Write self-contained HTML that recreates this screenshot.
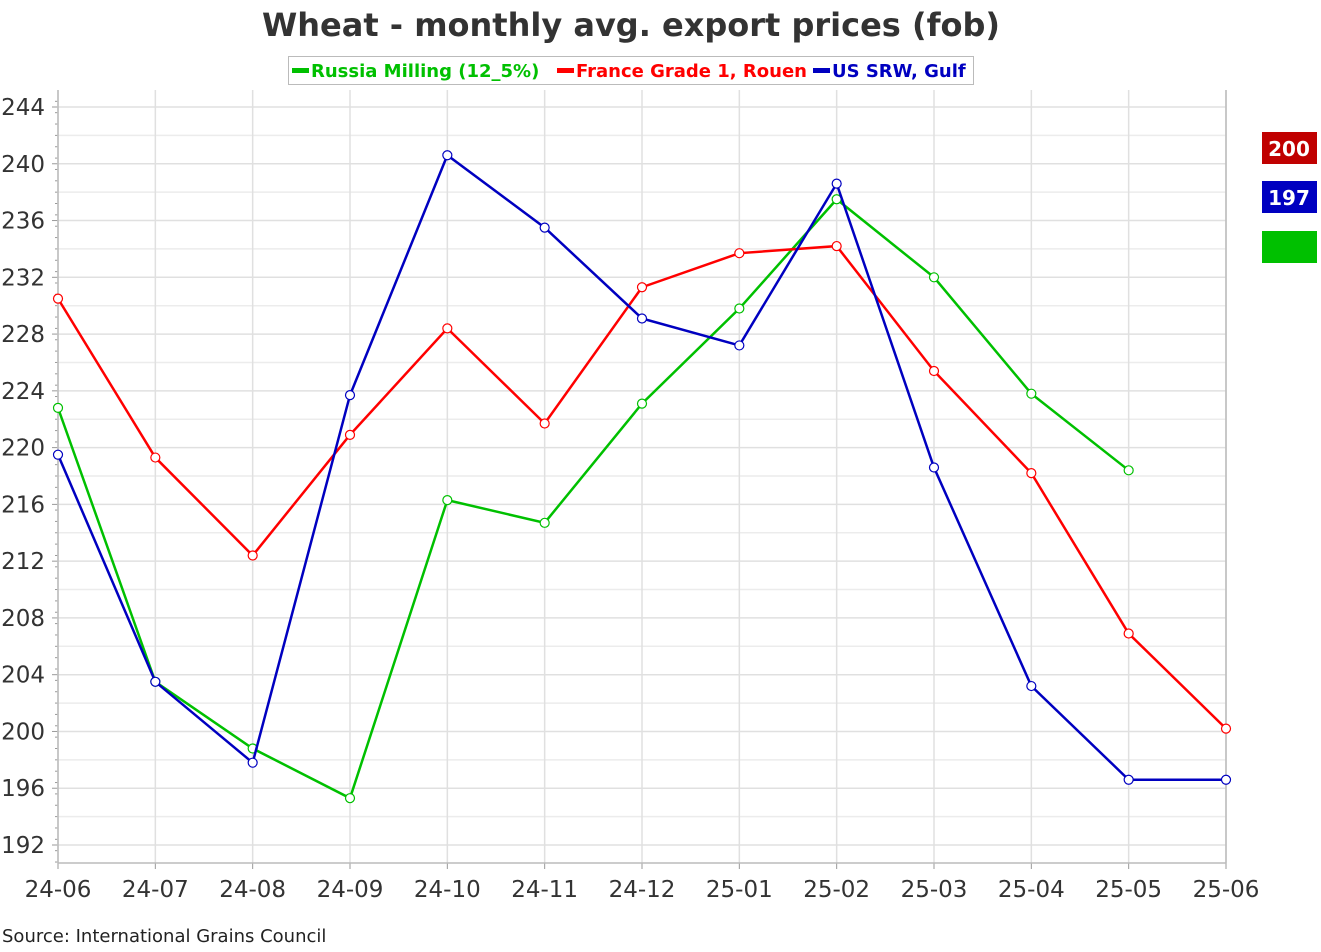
<!DOCTYPE html>
<html><head><meta charset="utf-8"><style>
body{margin:0;background:#fff;font-family:"DejaVu Sans","Liberation Sans",sans-serif;}
</style></head><body>
<svg id="c" width="1321" height="948" xmlns="http://www.w3.org/2000/svg">
<text x="631" y="36" text-anchor="middle" font-size="32" font-weight="bold" fill="#333">Wheat - monthly avg. export prices (fob)</text>
<g>
<rect x="288.5" y="56.5" width="685" height="28" fill="#fff" stroke="#bbb"/>
<rect x="292" y="68" width="17" height="5" fill="#00c000"/>
<text x="311" y="77" font-size="18" font-weight="bold" fill="#00c000">Russia Milling (12_5%)</text>
<rect x="557" y="68" width="17" height="5" fill="#ff0000"/>
<text x="576" y="77" font-size="18" font-weight="bold" fill="#ff0000">France Grade 1, Rouen</text>
<rect x="813" y="68" width="17" height="5" fill="#0000c0"/>
<text x="832" y="77" font-size="18" font-weight="bold" fill="#0000c0">US SRW, Gulf</text>
</g>
<g id="grid"></g><g id="series"></g>
<g>
<rect x="1262" y="132" width="55" height="32" fill="#c00000"/>
<text x="1289" y="156" text-anchor="middle" font-size="20" font-weight="bold" fill="#fff">200</text>
<rect x="1262" y="181" width="55" height="32" fill="#0000c0"/>
<text x="1289" y="205" text-anchor="middle" font-size="20" font-weight="bold" fill="#fff">197</text>
<rect x="1262" y="231" width="55" height="32" fill="#00c000"/>
</g>
<text x="2" y="942" font-size="18" fill="#222">Source: International Grains Council</text>
</svg>
<script>
const categories=["24-06","24-07","24-08","24-09","24-10","24-11","24-12","25-01","25-02","25-03","25-04","25-05","25-06"];
const russia=[222.8,203.5,198.8,195.3,216.3,214.7,223.1,229.8,237.5,232.0,223.8,218.4,null];
const france=[230.5,219.3,212.4,220.9,228.4,221.7,231.3,233.7,234.2,225.4,218.2,206.9,200.2];
const us=[219.5,203.5,197.8,223.7,240.6,235.5,229.1,227.2,238.6,218.6,203.2,196.6,196.6];
const yTicks=[192,196,200,204,208,212,216,220,224,228,232,236,240,244];
const NS="http://www.w3.org/2000/svg";
const L=58,R=1226,T=90,B=863;
const x=i=>L+i*(R-L)/(categories.length-1);
const y=v=>107+(244-v)*(845-107)/52;
function mk(tag,attrs,parent){const e=document.createElementNS(NS,tag);for(const k in attrs)e.setAttribute(k,attrs[k]);parent.appendChild(e);return e;}
const g=document.getElementById('grid'),s=document.getElementById('series');
for(let v=192;v<=245;v+=2){const l=mk('line',{x1:L,x2:R,y1:y(v),y2:y(v),stroke:v%4===0?'#e0e0e0':'#ececec','stroke-width':1.5},g);

}
for(let v=190.8;v<=246;v+=0.8){if(y(v)<T||y(v)>B)continue;const t=mk('line',{x1:L-3,x2:L,y1:y(v),y2:y(v),stroke:'#999'},g);

}
yTicks.forEach(v=>{const t=mk('text',{x:45,y:y(v)+8,'text-anchor':'end','font-size':23,fill:'#333'},g);t.textContent=v;


mk('line',{x1:L-6,x2:L,y1:y(v),y2:y(v),stroke:'#999'},g);});
categories.forEach((c,i)=>{const l=mk('line',{x1:x(i),x2:x(i),y1:T,y2:B,stroke:'#e0e0e0','stroke-width':1.5},g);


mk('line',{x1:x(i),x2:x(i),y1:B,y2:B+6,stroke:'#999'},g);
const t=mk('text',{x:x(i),y:897,'text-anchor':'middle','font-size':23,fill:'#333'},g);t.textContent=c;

});
const ax=mk('path',{d:`M${L} ${T}V${B}H${R}V${T}`,fill:'none',stroke:'#bbb','stroke-width':1.5},g);


[[russia,'#00c000','russia'],[france,'#ff0000','france'],[us,'#0000c0','us']].forEach(([d,col,n])=>{
let p='';d.forEach((v,i)=>{if(v==null)return;p+=(p?'L':'M')+x(i)+' '+y(v);});
const pl=mk('path',{d:p,fill:'none',stroke:col,'stroke-width':2.5},s);


d.forEach((v,i)=>{if(v==null)return;const c=mk('circle',{cx:x(i),cy:y(v),r:4.5,fill:'#fff',stroke:col,'stroke-width':1.2},s);

});});
</script>
</body></html>
